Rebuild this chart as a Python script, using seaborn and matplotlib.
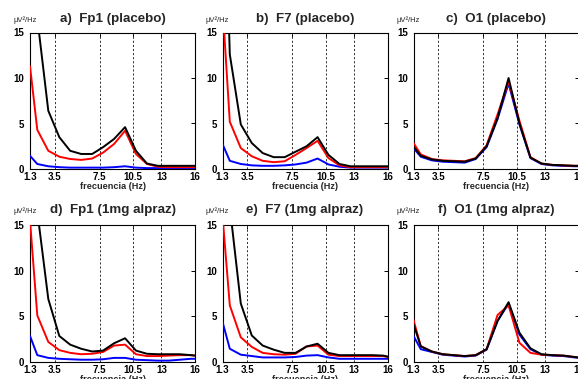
import numpy as np
import pandas as pd
import matplotlib
matplotlib.use("Agg")
import matplotlib.pyplot as plt
import seaborn as sns

# ---------------- data ----------------
freq = [1.3, 1.95, 2.93, 3.91, 4.88, 5.86, 6.84, 7.81, 8.79, 9.77,
        10.74, 11.72, 12.70, 13.67, 14.65, 15.63, 16.0]

xticks = [1.3, 3.5, 7.5, 10.5, 13, 16]
xtick_labels = ["1.3", "3.5", "7.5", "10.5", "13", "16"]
yticks = [0, 5, 10, 15]
band_lines = [3.5, 7.5, 10.5, 13]

titles = ["a)  Fp1 (placebo)", "b)  F7 (placebo)", "c)  O1 (placebo)",
          "d)  Fp1 (1mg alpraz)", "e)  F7 (1mg alpraz)", "f)  O1 (1mg alpraz)"]
ylabel_text = "\u00b5V\u00b2/Hz"
xlabel_text = "frecuencia (Hz)"

# a) Fp1 placebo
a_black = [30, 16.6, 6.4, 3.5, 2.0, 1.65, 1.65, 2.4, 3.3, 4.6, 2.0, 0.6, 0.35, 0.35, 0.35, 0.35, 0.35]
a_red   = [11.3, 4.3, 2.0, 1.35, 1.1, 1.0, 1.15, 1.8, 2.75, 4.2, 1.65, 0.55, 0.25, 0.2, 0.2, 0.2, 0.2]
a_blue  = [1.45, 0.55, 0.3, 0.2, 0.15, 0.15, 0.15, 0.15, 0.2, 0.3, 0.15, 0.1, 0.1, 0.1, 0.1, 0.1, 0.1]
# b) F7 placebo
b_black = [40, 12.6, 4.9, 2.85, 1.75, 1.3, 1.3, 1.9, 2.5, 3.5, 1.55, 0.55, 0.3, 0.3, 0.3, 0.3, 0.3]
b_red   = [18, 5.2, 2.3, 1.4, 0.9, 0.75, 0.85, 1.55, 2.3, 3.1, 1.2, 0.4, 0.2, 0.2, 0.2, 0.2, 0.2]
b_blue  = [2.75, 0.9, 0.55, 0.4, 0.35, 0.35, 0.4, 0.5, 0.7, 1.15, 0.5, 0.25, 0.15, 0.15, 0.15, 0.15, 0.15]
# c) O1 placebo
c_black = [2.45, 1.45, 1.05, 0.9, 0.85, 0.8, 1.15, 2.5, 5.6, 10.0, 5.0, 1.25, 0.6, 0.45, 0.4, 0.35, 0.35]
c_red   = [2.85, 1.6, 1.1, 0.95, 0.9, 0.85, 1.2, 2.6, 6.0, 9.6, 5.3, 1.3, 0.6, 0.45, 0.4, 0.35, 0.35]
c_blue  = [2.3, 1.35, 0.95, 0.8, 0.75, 0.7, 1.1, 2.4, 5.5, 9.4, 4.9, 1.2, 0.55, 0.4, 0.35, 0.3, 0.3]
# d) Fp1 1mg alpraz
d_black = [30, 16.5, 6.9, 2.85, 1.9, 1.45, 1.15, 1.25, 2.05, 2.6, 1.25, 0.9, 0.85, 0.85, 0.85, 0.75, 0.7]
d_red   = [15.5, 5.1, 2.2, 1.3, 1.0, 0.85, 0.9, 1.1, 1.8, 1.9, 0.85, 0.65, 0.65, 0.7, 0.75, 0.75, 0.7]
d_blue  = [2.85, 0.75, 0.45, 0.35, 0.3, 0.25, 0.25, 0.3, 0.45, 0.45, 0.25, 0.2, 0.15, 0.15, 0.25, 0.35, 0.35]
# e) F7 1mg alpraz
e_black = [35, 17, 6.4, 2.9, 1.8, 1.35, 1.0, 1.0, 1.7, 2.0, 1.0, 0.75, 0.75, 0.75, 0.75, 0.7, 0.6]
e_red   = [16, 6.2, 2.7, 1.65, 1.0, 0.85, 0.8, 0.9, 1.7, 1.8, 0.8, 0.65, 0.65, 0.65, 0.65, 0.65, 0.55]
e_blue  = [4.4, 1.45, 0.8, 0.65, 0.5, 0.5, 0.5, 0.55, 0.7, 0.75, 0.5, 0.35, 0.35, 0.35, 0.35, 0.35, 0.35]
# f) O1 1mg alpraz
f_black = [4.15, 1.7, 1.15, 0.85, 0.75, 0.65, 0.75, 1.4, 4.5, 6.55, 3.2, 1.5, 0.85, 0.75, 0.7, 0.55, 0.5]
f_red   = [4.6, 1.75, 1.15, 0.85, 0.75, 0.65, 0.75, 1.4, 5.15, 6.2, 2.1, 1.0, 0.8, 0.75, 0.7, 0.55, 0.5]
f_blue  = [2.85, 1.4, 1.1, 0.8, 0.7, 0.6, 0.7, 1.35, 4.5, 6.4, 3.0, 1.4, 0.8, 0.7, 0.65, 0.5, 0.45]

panels = [(a_blue, a_red, a_black), (b_blue, b_red, b_black), (c_blue, c_red, c_black),
          (d_blue, d_red, d_black), (e_blue, e_red, e_black), (f_blue, f_red, f_black)]
series_names = ["blue", "red", "black"]
palette = {"blue": "#0000ff", "red": "#ff0000", "black": "#000000"}

# ---------------- style ----------------
sns.set_style("white")
FONT = ["Liberation Sans", "DejaVu Sans"]
plt.rcParams["font.family"] = FONT

W, H = 578, 379
fig = plt.figure(figsize=(W / 100, H / 100), dpi=100)

lefts = [30, 222.5, 413.5]
tops = [32.5, 225]
bottoms = [169, 362]
width = 165

for i, series in enumerate(panels):
    r, c = divmod(i, 3)
    l = lefts[c]
    t = tops[r]
    b = bottoms[r]
    ax = fig.add_axes([l / W, 1 - b / H, width / W, (b - t) / H])

    rows = []
    for name, vals in zip(series_names, series):
        for f, v in zip(freq, vals):
            rows.append({"freq": f, "power": v, "serie": name})
    df = pd.DataFrame(rows)

    for xv in band_lines:
        ax.axvline(xv, color="#333333", lw=0.7, linestyle=(0, (2.2, 2.0)), zorder=1)

    sns.lineplot(data=df, x="freq", y="power", hue="serie", hue_order=series_names,
                 palette=palette, linewidth=1.4, ax=ax, legend=False, zorder=3,
                 estimator=None, sort=False)

    ax.set_xlim(1.3, 16)
    ax.set_ylim(0, 15)
    ax.set_xticks(xticks)
    ax.set_xticklabels(xtick_labels)
    ax.set_yticks(yticks)
    ax.set_yticklabels([str(v) for v in yticks])
    ax.tick_params(direction="in", length=3, width=0.7, top=True, right=True,
                   labelsize=7, pad=2, colors="black")
    ax.tick_params(axis="y", pad=4)
    for lab in ax.get_xticklabels() + ax.get_yticklabels():
        lab.set_fontweight("bold")
        lab.set_family(FONT)
    for sp in ax.spines.values():
        sp.set_visible(True)
        sp.set_color("black")
        sp.set_linewidth(0.8)

    ax.set_xlabel(xlabel_text, fontsize=6.6, fontweight="bold", labelpad=0, family=FONT)
    ax.set_ylabel("")

    ty = t - 13.5 if r == 0 else t - 14.5
    fig.text((l + width / 2) / W, 1 - ty / H, titles[i], ha="center", va="center",
             fontsize=9.6, fontweight="bold", family=FONT)
    fig.text((l - 17) / W, 1 - (ty + 1) / H, ylabel_text, ha="left", va="center",
             fontsize=5.5, family=FONT)

fig.savefig("out.png", dpi=100)
